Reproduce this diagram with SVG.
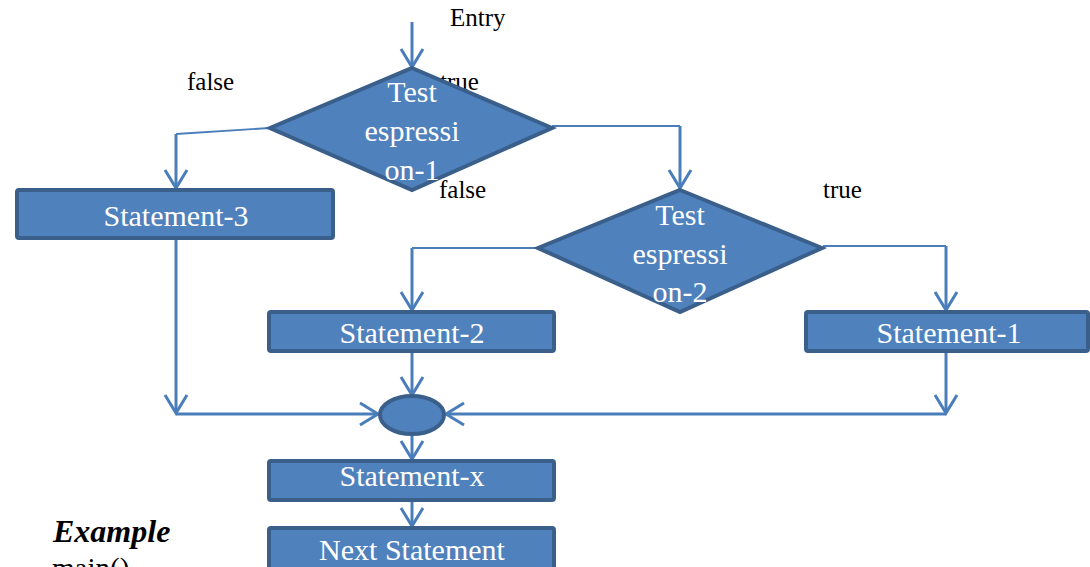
<svg xmlns="http://www.w3.org/2000/svg" width="1090" height="567" viewBox="0 0 1090 567">
  <style>
    .box { fill: #4f81bd; stroke: #3a5f8b; stroke-width: 4; }
    .lbl { font-family: "Liberation Serif", "Times New Roman", serif; font-size: 25px; fill: #000; }
    .in { font-family: "Liberation Serif", "Times New Roman", serif; font-size: 30px; fill: #fff; text-anchor: middle; }
    .ln { fill: none; stroke: #4a7ebb; stroke-width: 3; }
    .thin { fill: none; stroke: #4a7ebb; stroke-width: 1.8; }
  </style>
  <defs>
    <marker id="arr" markerUnits="userSpaceOnUse" markerWidth="26" markerHeight="28" viewBox="0 0 26 28" refX="22" refY="14" orient="auto">
      <path d="M4,3 L22,14 L4,25" fill="none" stroke="#4a7ebb" stroke-width="3"/>
    </marker>
  </defs>

  <!-- branch labels -->
  <g id="labels">
    <text class="lbl" x="450" y="26">Entry</text>
    <text class="lbl" x="187" y="90">false</text>
    <text class="lbl" x="440" y="90">true</text>
    <text class="lbl" x="439" y="198">false</text>
    <text class="lbl" x="823" y="198">true</text>
  </g>

  <!-- connectors -->
  <g id="connectors">
    <line class="ln" x1="412" y1="22" x2="412" y2="67" marker-end="url(#arr)"/>
    <polyline class="thin" points="270,128 176,134"/>
    <line class="ln" x1="176" y1="134" x2="176" y2="188" marker-end="url(#arr)"/>
    <polyline class="thin" points="552,126 680,126"/>
    <line class="ln" x1="680" y1="126" x2="680" y2="188" marker-end="url(#arr)"/>
    <polyline class="thin" points="538,248 412,248"/>
    <line class="ln" x1="412" y1="248" x2="412" y2="310" marker-end="url(#arr)"/>
    <polyline class="thin" points="823,246 946,246"/>
    <line class="ln" x1="946" y1="246" x2="946" y2="310" marker-end="url(#arr)"/>
    <line class="ln" x1="176" y1="238" x2="176" y2="413" marker-end="url(#arr)"/>
    <line class="ln" x1="176" y1="414" x2="378" y2="414" marker-end="url(#arr)"/>
    <line class="ln" x1="946" y1="351" x2="946" y2="413" marker-end="url(#arr)"/>
    <line class="ln" x1="946" y1="414" x2="446" y2="414" marker-end="url(#arr)"/>
    <line class="ln" x1="412" y1="351" x2="412" y2="395" marker-end="url(#arr)"/>
    <line class="ln" x1="412" y1="434" x2="412" y2="459" marker-end="url(#arr)"/>
    <line class="ln" x1="412" y1="500" x2="412" y2="526" marker-end="url(#arr)"/>
  </g>

  <g id="test1">
    <polygon class="box" points="412,68 552,128 412,190 270,128"/>
    <text class="in" x="412" y="102">Test</text>
    <text class="in" x="412" y="141">espressi</text>
    <text class="in" x="412" y="180">on-1</text>
  </g>

  <g id="test2">
    <polygon class="box" points="680,190 822,248 680,312 538,248"/>
    <text class="in" x="680" y="225">Test</text>
    <text class="in" x="680" y="264">espressi</text>
    <text class="in" x="680" y="302">on-2</text>
  </g>

  <g id="statement3">
    <rect class="box" x="17" y="190" width="316" height="48" rx="2"/>
    <text class="in" x="176" y="226">Statement-3</text>
  </g>

  <g id="statement2">
    <rect class="box" x="269" y="312" width="285" height="39" rx="2"/>
    <text class="in" x="412" y="343">Statement-2</text>
  </g>

  <g id="statement1">
    <rect class="box" x="806" y="312" width="282" height="39" rx="2"/>
    <text class="in" x="949" y="343">Statement-1</text>
  </g>

  <g id="join">
    <ellipse class="box" cx="412" cy="415" rx="32" ry="19"/>
  </g>

  <g id="statementx">
    <rect class="box" x="269" y="461" width="285" height="39" rx="2"/>
    <text class="in" x="412" y="486">Statement-x</text>
  </g>

  <g id="next">
    <rect class="box" x="269" y="528" width="285" height="50" rx="2"/>
    <text class="in" x="412" y="560">Next Statement</text>
  </g>

  <g id="example">
    <text x="53" y="542" font-family="Liberation Serif, 'Times New Roman', serif" font-size="32" font-weight="bold" font-style="italic">Example</text>
    <text x="52" y="578" font-family="Liberation Serif, 'Times New Roman', serif" font-size="29">main()</text>
  </g>
</svg>
